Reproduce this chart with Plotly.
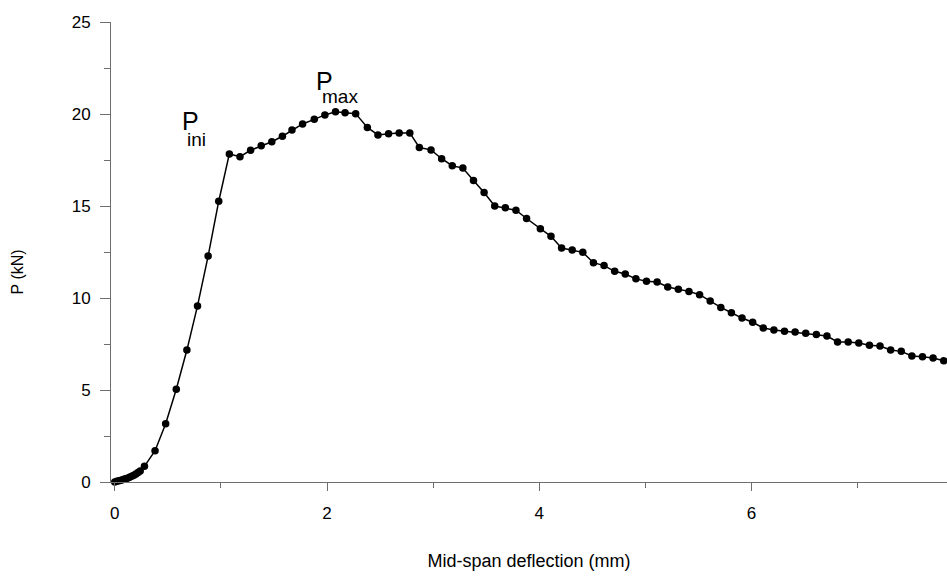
import plotly.graph_objects as go

# Mid-span deflection (mm)
deflection = [0.00, 0.02, 0.04, 0.06, 0.08, 0.10, 0.12, 0.14, 0.16, 0.18, 0.20, 0.22, 0.24,
              0.28, 0.38, 0.48, 0.58, 0.68, 0.78, 0.88, 0.98,
              1.08, 1.18, 1.28, 1.38, 1.48, 1.58, 1.67, 1.77, 1.88, 1.98,
              2.08, 2.17, 2.27, 2.38, 2.48, 2.58, 2.68, 2.78, 2.87, 2.98,
              3.08, 3.18, 3.28, 3.38, 3.48, 3.58, 3.68, 3.78, 3.88, 4.01,
              4.11, 4.21, 4.31, 4.41, 4.51, 4.61, 4.71, 4.81, 4.91, 5.01,
              5.11, 5.21, 5.31, 5.41, 5.51, 5.61, 5.71, 5.81, 5.91, 6.01,
              6.11, 6.21, 6.31, 6.41, 6.51, 6.61, 6.71, 6.81, 6.91, 7.01,
              7.11, 7.21, 7.31, 7.41, 7.51, 7.61, 7.71, 7.81]

# Load P (kN)
load = [0.00, 0.04, 0.07, 0.10, 0.13, 0.17, 0.21, 0.26, 0.31, 0.37, 0.44, 0.52, 0.60,
        0.85, 1.70, 3.17, 5.04, 7.17, 9.57, 12.28, 15.26,
        17.83, 17.68, 18.03, 18.28, 18.49, 18.79, 19.13, 19.46, 19.71, 19.95,
        20.12, 20.07, 20.02, 19.27, 18.86, 18.92, 18.97, 18.97, 18.18, 18.05,
        17.57, 17.19, 17.06, 16.38, 15.73, 15.00, 14.90, 14.77, 14.32, 13.76,
        13.35, 12.72, 12.61, 12.48, 11.92, 11.76, 11.45, 11.30, 11.04, 10.91,
        10.87, 10.60, 10.47, 10.36, 10.18, 9.84, 9.49, 9.20, 8.91, 8.68,
        8.37, 8.26, 8.19, 8.15, 8.08, 8.01, 7.93, 7.61, 7.61, 7.55,
        7.43, 7.39, 7.17, 7.10, 6.85, 6.81, 6.74, 6.59]

x_ticks = [0, 2, 4, 6]
y_ticks = [0, 5, 10, 15, 20, 25]

FONT = "Liberation Sans, Arial, sans-serif"
AXIS_GREY = "#6e6e6e"

fig = go.Figure()
fig.add_trace(go.Scatter(
    x=deflection, y=load, mode="lines+markers",
    line=dict(color="black", width=1.5),
    marker=dict(color="black", size=7.5),
    cliponaxis=False, showlegend=False,
))

# Labels P_ini and P_max (main letter and its subscript)
labels = [
    ("P", 0.63, 19.63, 25), ("ini", 0.685, 18.6, 19),
    ("P", 1.90, 21.79, 25), ("max", 1.955, 20.95, 19),
]
for txt, xx, yy, sz in labels:
    fig.add_annotation(x=xx, y=yy, text=txt, showarrow=False, xanchor="left", yanchor="middle",
                       borderpad=0, borderwidth=0,
                       font=dict(family=FONT, size=sz, color="black"))

# y-axis title
fig.add_annotation(xref="paper", yref="paper", x=-0.112, y=0.4565, text="P (kN)", textangle=-90,
                   showarrow=False, xanchor="center", yanchor="middle",
                   font=dict(family=FONT, size=16, color="black"))

fig.update_layout(
    width=947, height=576,
    margin=dict(l=111, r=0, t=22, b=94),
    paper_bgcolor="white", plot_bgcolor="white",
    font=dict(family=FONT, size=17, color="black"),
    xaxis=dict(
        range=[-0.035, 7.841], tickvals=x_ticks, ticktext=[str(v) for v in x_ticks],
        showgrid=False, zeroline=False, showline=True, linecolor=AXIS_GREY, linewidth=1,
        ticks="outside", ticklen=8, tickcolor=AXIS_GREY, tickwidth=1, ticklabelstandoff=8,
        minor=dict(tickvals=[1, 3, 5, 7], ticks="outside", ticklen=5, tickcolor=AXIS_GREY, showgrid=False),
        title=dict(text="Mid-span deflection (mm)", font=dict(family=FONT, size=18), standoff=31),
    ),
    yaxis=dict(
        range=[0, 25], tickvals=y_ticks, ticktext=[str(v) for v in y_ticks],
        showgrid=False, zeroline=False, showline=True, linecolor=AXIS_GREY, linewidth=1,
        ticks="outside", ticklen=10, tickcolor=AXIS_GREY, tickwidth=1, ticklabelstandoff=6,
        minor=dict(tickvals=[2.5, 7.5, 12.5, 17.5, 22.5], ticks="outside", ticklen=6,
                   tickcolor=AXIS_GREY, showgrid=False),
    ),
)

fig.write_html(
    "out.html",
    config={"displayModeBar": False},
    post_script="document.documentElement.style.margin='0';document.body.style.margin='0';"
                "document.body.style.overflow='hidden';",
)
